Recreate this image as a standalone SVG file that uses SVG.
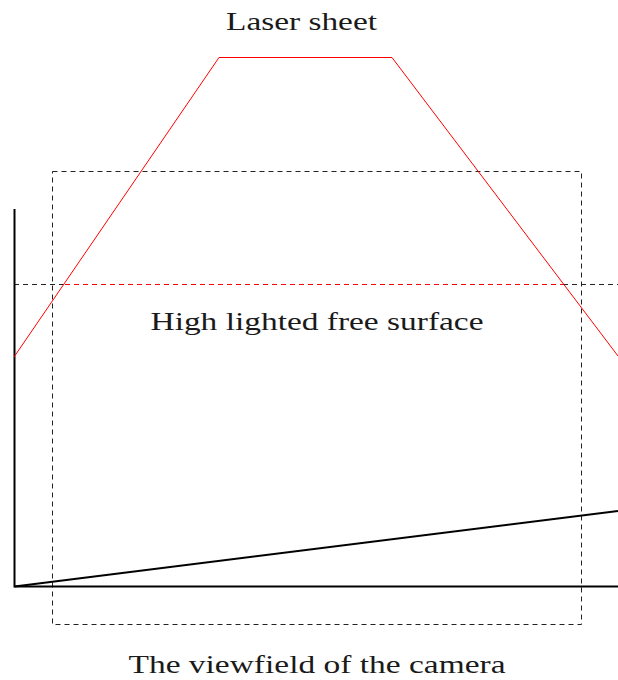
<svg xmlns="http://www.w3.org/2000/svg" width="618" height="680" viewBox="0 0 618 680">
<style>
text{font-family:"Liberation Serif","Times New Roman",serif;font-size:26px;fill:#1a1a1a;text-anchor:middle}
.axis{stroke:#000;stroke-width:2;fill:none}
.dash{stroke:#222;stroke-width:1;stroke-dasharray:5 4;fill:none}
.red{stroke:#ff0000;stroke-width:1;fill:none}
.reddash{stroke:#ff0000;stroke-width:1;stroke-dasharray:5 4;fill:none}
</style>
<rect width="618" height="680" fill="#fff"/>
<g id="camera-view">
<rect class="dash" x="52.5" y="171.5" width="529" height="453"/>
<text x="317" y="673" textLength="377" lengthAdjust="spacingAndGlyphs">The viewfield of the camera</text>
</g>
<g id="surface">
<path class="dash" d="M14 284.5H65"/>
<path class="dash" d="M563 284.5H618"/>
<path class="reddash" d="M65 284.5H563"/>
<text x="317" y="330" textLength="333" lengthAdjust="spacingAndGlyphs">High lighted free surface</text>
</g>
<g id="axes">
<path class="axis" d="M14.5 209V587.5M13.5 586.5H618"/>
<path class="axis" d="M14.5 586.5L618 511"/>
</g>
<g id="laser-sheet">
<path class="red" d="M14 357L219 57.5H392L618 356"/>
<text x="301.5" y="29.5" textLength="151" lengthAdjust="spacingAndGlyphs">Laser sheet</text>
</g>
</svg>
